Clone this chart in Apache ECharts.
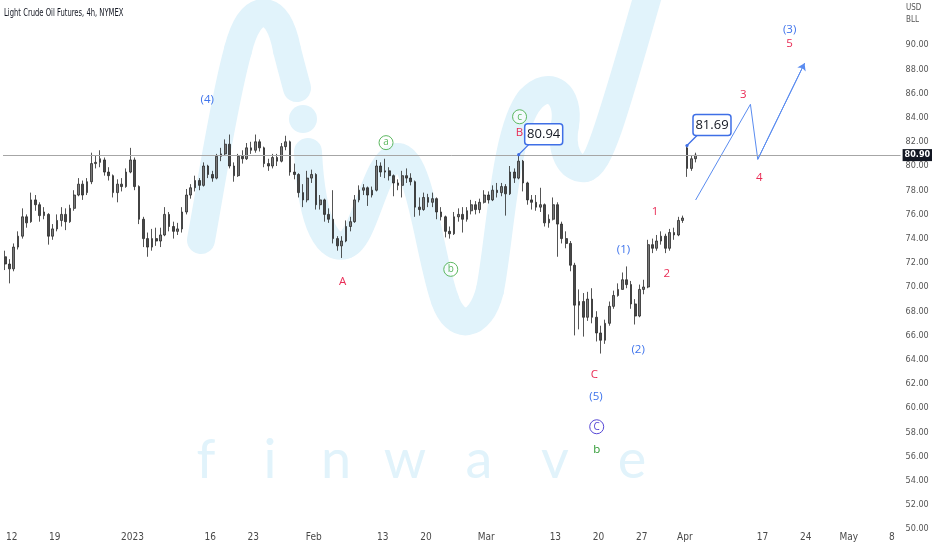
<!DOCTYPE html>
<html><head><meta charset="utf-8">
<script src="https://cdn.jsdelivr.net/npm/echarts@6/dist/echarts.min.js"></script>
<style>html,body{margin:0;padding:0;background:#fff}#c{width:932px;height:550px}</style>
</head><body><div id="c"></div>
<script>
// 12-hour candles (two per trading day)
const opens = [72.5,71.9,71.5,73.3,74.2,75.8,75.4,77.2,76.8,75.9,76.0,74.2,74.8,75.5,76.0,75.4,76.5,77.6,78.5,77.8,
78.7,80.2,80.3,80.5,79.5,79.2,77.8,78.5,78.3,79.5,80.5,78.3,75.6,74.0,73.3,74.0,73.8,74.3,76.0,75.0,
74.6,74.8,76.2,77.6,78.2,78.8,78.4,80.0,79.3,79.0,80.8,81.0,81.8,80.0,79.2,80.8,80.6,81.5,81.3,82.0,
81.5,80.2,80.0,80.7,80.4,81.6,82.0,79.5,79.3,77.8,77.2,79.0,79.3,76.8,77.2,76.0,75.6,74.0,73.4,73.8,
75.0,75.4,77.2,78.0,78.2,77.6,78.0,80.0,79.5,79.6,79.2,78.6,78.4,79.2,79.0,78.7,76.6,76.4,77.4,77.0,
77.3,76.2,75.8,74.6,74.4,75.8,76.0,75.6,76.3,76.8,76.4,77.0,77.6,77.2,78.0,77.8,78.3,77.7,79.5,79.0,
80.4,78.6,77.2,77.0,76.6,76.8,75.3,75.6,76.8,75.2,74.0,73.6,71.8,68.5,68.8,67.5,69.0,67.5,66.2,65.6,
67.0,68.4,69.3,69.8,70.6,70.2,68.6,67.6,69.8,70.0,73.5,73.2,73.8,74.2,73.2,74.5,74.3,75.5,81.5,79.8,80.6];
const closes = [71.9,71.5,73.3,74.2,75.8,75.3,77.2,76.8,75.9,76.2,74.2,74.8,75.5,76.0,75.4,76.5,77.6,78.5,77.6,78.7,
80.2,80.3,80.6,79.5,79.2,77.8,78.5,78.3,79.5,80.5,78.3,75.6,74.0,73.3,74.0,73.8,74.3,76.0,75.0,74.6,
74.8,76.2,77.6,78.2,78.8,78.4,80.0,79.3,79.0,80.8,81.0,81.8,80.0,79.2,80.8,80.6,81.5,81.3,82.0,81.5,
80.2,80.0,80.7,80.4,81.6,82.0,79.5,79.3,77.8,77.2,79.0,79.3,76.8,77.2,76.0,75.6,74.0,73.4,73.8,75.0,
75.4,77.2,78.0,78.2,77.6,78.0,80.0,79.5,79.6,79.2,78.6,78.4,79.2,79.0,78.7,76.6,76.4,77.4,77.0,77.3,
76.2,75.8,74.6,74.4,75.8,76.0,75.6,76.3,76.8,76.4,77.0,77.6,77.2,78.0,77.8,78.3,77.7,79.5,79.0,80.4,
78.6,77.2,77.0,76.6,76.8,75.3,75.6,76.8,75.2,74.0,73.6,71.8,68.5,68.8,67.5,69.0,67.5,66.2,65.6,67.0,
68.4,69.3,69.8,70.6,70.2,68.6,67.6,69.8,70.0,73.5,73.2,73.8,74.2,73.2,74.5,74.3,75.5,75.7,79.8,80.6,80.9];
const highs = [73.0,72.3,73.6,74.6,76.5,76.0,77.8,77.6,77.0,76.6,76.1,75.2,76.0,76.6,76.5,76.8,78.0,79.0,78.8,79.0,
81.1,80.9,81.3,80.7,79.9,79.3,78.9,79.0,79.8,81.5,80.7,78.4,75.8,74.5,74.8,74.9,74.9,76.6,76.2,75.4,
75.3,76.6,78.1,78.5,79.2,79.0,80.3,80.1,79.6,81.0,81.5,82.2,82.6,80.3,81.0,81.3,81.9,82.0,82.6,82.2,
81.6,80.6,81.0,81.0,81.9,82.5,82.1,80.2,79.4,78.5,79.6,79.7,79.4,77.6,77.3,76.5,78.0,74.2,74.2,75.5,
75.8,77.6,78.4,78.5,78.3,78.3,80.5,80.3,80.6,79.9,79.3,78.9,79.6,79.8,79.4,78.8,77.4,77.8,77.7,77.8,
77.4,76.6,75.9,75.0,76.2,76.5,76.6,76.6,77.2,77.1,77.3,78.0,77.9,78.4,78.6,78.6,78.5,80.0,79.8,80.94,
80.5,78.7,77.6,77.6,78.2,76.9,76.0,77.4,77.0,75.4,74.6,73.8,72.0,69.8,69.5,69.6,69.9,68.0,66.8,67.3,
68.8,69.7,70.3,71.2,71.7,70.5,69.0,70.2,70.6,73.9,74.0,74.3,74.6,74.4,74.8,74.9,75.8,75.9,81.69,80.9,81.1];
const lows = [71.4,70.3,71.3,73.1,74.0,74.9,75.3,76.3,75.4,75.6,73.5,73.9,74.6,75.0,74.7,75.3,76.3,77.5,77.2,77.6,
78.5,79.8,79.9,79.2,78.8,77.4,77.0,77.9,78.2,79.4,78.0,75.2,73.3,72.5,73.0,73.4,73.3,74.2,74.6,74.0,
74.3,74.5,76.0,77.3,77.9,78.0,78.3,79.0,78.7,78.9,80.4,80.9,79.8,78.7,79.1,80.2,80.5,81.0,81.1,81.2,
79.9,79.6,79.8,80.0,80.3,81.3,79.2,78.9,77.4,76.6,77.0,78.6,76.4,76.4,75.4,75.3,73.6,73.0,72.4,73.7,
74.6,75.3,77.0,77.6,76.7,77.4,77.9,79.1,79.0,78.8,77.5,78.0,77.4,78.6,78.4,75.8,75.9,76.3,76.6,76.6,
75.6,75.5,74.1,74.0,74.3,75.4,74.5,75.4,76.0,76.0,76.1,76.9,76.9,77.1,77.4,77.5,75.9,77.6,78.6,78.9,
77.9,76.8,76.4,76.3,76.2,75.0,74.9,75.5,72.5,73.6,73.2,71.3,66.0,66.5,65.9,67.2,67.0,65.5,64.5,65.3,
66.8,68.2,69.2,69.8,69.9,68.2,66.9,67.5,69.4,69.9,72.8,73.0,73.5,72.8,73.0,73.9,74.2,75.3,79.1,79.6,80.3];

// time axis: trading-day index and its tick label
const xTickDays = [1,6,15,24,29,36,44,49,56,64,69,74,79,88,93,98,103];
const xTickText = ['12','19','2023','16','23','Feb','13','20','Mar','13','20','27','Apr','17','24','May','8'];
const lastPrice = 80.90;

// projected path (trading-day index, price)
const projection = [[80.25,77.19],[86.6,85.1],[87.45,80.55],[92.87,88.49]];

// wave labels: text, day index, price, degree
const waveLabels = [
  ['(4)',23.67,85.51,'intermediate'],
  ['A',39.34,70.44,'minor'],
  ['a',44.38,81.93,'minute'],
  ['b',51.88,71.46,'minute'],
  ['c',59.85,84.07,'minute'],
  ['B',59.85,82.75,'minor'],
  ['C',68.51,62.73,'minor'],
  ['(5)',68.71,60.93,'intermediate'],
  ['C',68.79,58.45,'primary'],
  ['b',68.79,56.59,'cycle'],
  ['(1)',71.9,73.12,'intermediate'],
  ['(2)',73.59,64.79,'intermediate'],
  ['1',75.55,76.22,'minor'],
  ['2',76.9,71.13,'minor'],
  ['3',85.76,85.87,'minor'],
  ['4',87.64,79.03,'minor'],
  ['5',91.14,90.14,'minor'],
  ['(3)',91.14,91.24,'intermediate']
];
// price callouts on candle highs (candle index)
const calloutCandles = [119, 158];

const degreeStyle = {
  minor: {color:'#e92c55', circle:false},
  intermediate: {color:'#3f74ec', circle:false},
  minute: {color:'#5cb860', circle:true},
  primary: {color:'#5647d6', circle:true},
  cycle: {color:'#2f9a33', circle:false}
};

const slotX = i => 0.25 + 0.5*i;
const candleData = opens.map((o,i)=>[slotX(i), o, closes[i], lows[i], highs[i]]);
const calloutData = calloutCandles.map(i=>[slotX(i), highs[i]]);

// background logo watermark (decoration, pixel geometry)
const WM = '#e1f3fb';
const wmCurves = [
  [201,240, 212,180, 224,100, 238,50],
  [238,50, 247,14, null,null, 263,13],
  [263,13, 280,13, null,null, 287,50],
  [287,50, 290,62, null,null, 297,88],
  [308,152, 312,230, 330,250, 345,245],
  [345,245, 365,240, 375,160, 397,157],
  [397,157, 420,155, 430,260, 445,300],
  [445,300, 455,330, 480,330, 490,290],
  [490,290, 500,240, 505,130, 530,100],
  [530,100, 550,78, 570,95, 565,125],
  [565,125, 560,150, 570,170, 585,168],
  [585,168, 600,165, 615,110, 648,-5]
];
const wmGraphics = wmCurves.map(c=>{
  const shape = {x1:c[0], y1:c[1], cpx1:c[2], cpy1:c[3], x2:c[6], y2:c[7]};
  if (c[4] !== null) { shape.cpx2 = c[4]; shape.cpy2 = c[5]; }
  return {type:'bezierCurve', silent:true, z:-5, shape,
    style:{fill:null, stroke:WM, lineWidth:28, lineCap:'round', lineJoin:'round'}};
});

const chart = echarts.init(document.getElementById('c'), null, {renderer:'canvas'});
const lbl = "'Liberation Sans Narrow','DejaVu Sans Condensed',Arial,sans-serif";
chart.setOption({
  animation:false,
  backgroundColor:'#ffffff',
  grid:{left:0, right:31.4, top:45, bottom:21, containLabel:false},
  xAxis:{type:'value', min:0, max:104, interval:1,
    axisLine:{show:false}, axisTick:{show:false}, splitLine:{show:false},
    axisLabel:{margin:3, fontSize:10, color:'#4a4a4a', fontFamily:lbl,
      formatter:v=>{const r=Math.round(v); if(Math.abs(v-r)>1e-6) return ''; const i=xTickDays.indexOf(r); return i>=0?xTickText[i]:'';}}},
  yAxis:{type:'value', position:'right', min:50, max:90, interval:2,
    axisLine:{show:false}, axisTick:{show:false}, splitLine:{show:false},
    axisLabel:{margin:5, fontSize:9, color:'#555', fontFamily:lbl, formatter:v=>v.toFixed(2)}},
  graphic:[
    ...wmGraphics,
    {type:'circle', silent:true, z:-5, shape:{cx:303, cy:119, r:14}, style:{fill:WM}},
    ...['f','i','n','w','a','v','e'].map((ch,i)=>({type:'text', silent:true, z:-5,
      style:{text:ch, x:[206,270,336,405,479,555,632][i], y:488, textAlign:'center', textVerticalAlign:'bottom',
      font:'400 54px Lato, sans-serif', fill:'#e1f3fb'}})),
    {type:'text', silent:true, x:4, y:13, scaleX:0.72,
      style:{text:'Light Crude Oil Futures, 4h, NYMEX', x:0, y:0, textVerticalAlign:'middle',
      font:'10.5px '+lbl, fill:'#131722'}},
    {type:'text', silent:true, style:{text:'USD', x:906, y:8, textVerticalAlign:'middle', font:'8px '+lbl, fill:'#555'}},
    {type:'text', silent:true, style:{text:'BLL', x:906, y:20, textVerticalAlign:'middle', font:'8px '+lbl, fill:'#555'}}
  ],
  series:[
    {type:'candlestick', data:candleData, encode:{x:0, y:[1,2,3,4]}, barWidth:2.2,
      itemStyle:{color:'#7a7a7a', color0:'#474747', borderColor:'#2a2a2a', borderColor0:'#2a2a2a', borderWidth:0.8},
      markLine:{silent:true, symbol:['none','none'], lineStyle:{color:'#a6a6a6', width:1, type:'solid'},
        label:{show:true, position:'end', distance:2, formatter:lastPrice.toFixed(2), color:'#fff',
          backgroundColor:'#131722', padding:[2,2,1,2], fontSize:9, fontWeight:'bold', fontFamily:lbl},
        data:[{yAxis:lastPrice}]}},
    {type:'line', data:projection, symbol:'none', lineStyle:{color:'#5a8cf0', width:1}, z:3,
      markLine:{silent:true, symbol:['none','arrow'], symbolSize:7, lineStyle:{color:'#5a8cf0', width:1, type:'solid'}, label:{show:false},
        data:[[{coord:projection[2]},{coord:projection[3]}]]}},
    {type:'custom', z:5, clip:false, data:calloutData,
      renderItem:(params, api)=>{
        const p = api.coord([api.value(0), api.value(1)]);
        const t = api.value(1).toFixed(2);
        return {type:'group', children:[
          {type:'line', shape:{x1:p[0], y1:p[1], x2:p[0]+10, y2:p[1]-10}, style:{stroke:'#3f6fe6', lineWidth:1.3}},
          {type:'circle', shape:{cx:p[0], cy:p[1], r:1.6}, style:{fill:'#3f6fe6'}},
          {type:'rect', shape:{x:p[0]+6, y:p[1]-31, width:38, height:21, r:3}, style:{fill:'#fff', stroke:'#3f6fe6', lineWidth:1.5}},
          {type:'text', style:{text:t, x:p[0]+25, y:p[1]-20.5, textAlign:'center', textVerticalAlign:'middle',
            font:'13px "Open Sans", Arial, sans-serif', fill:'#131722'}}
        ]};
      }},
    {type:'custom', z:6, clip:false, data:waveLabels.map(w=>[w[1], w[2]]),
      renderItem:(params, api)=>{
        const p = api.coord([api.value(0), api.value(1)]);
        const w = waveLabels[params.dataIndex];
        const s = degreeStyle[w[3]];
        const ch = [{type:'text', style:{text:w[0], x:p[0], y:p[1], textAlign:'center', textVerticalAlign:'middle',
            font:(s.circle?'10px':'11.5px')+' "Open Sans", Arial, sans-serif', fill:s.color, opacity:1}}];
        if (s.circle) ch.unshift({type:'circle', shape:{cx:p[0], cy:p[1], r:7}, style:{fill:'rgba(255,255,255,0.6)', stroke:s.color, lineWidth:1}});
        return {type:'group', children:ch};
      }}
  ]
});
</script></body></html>
